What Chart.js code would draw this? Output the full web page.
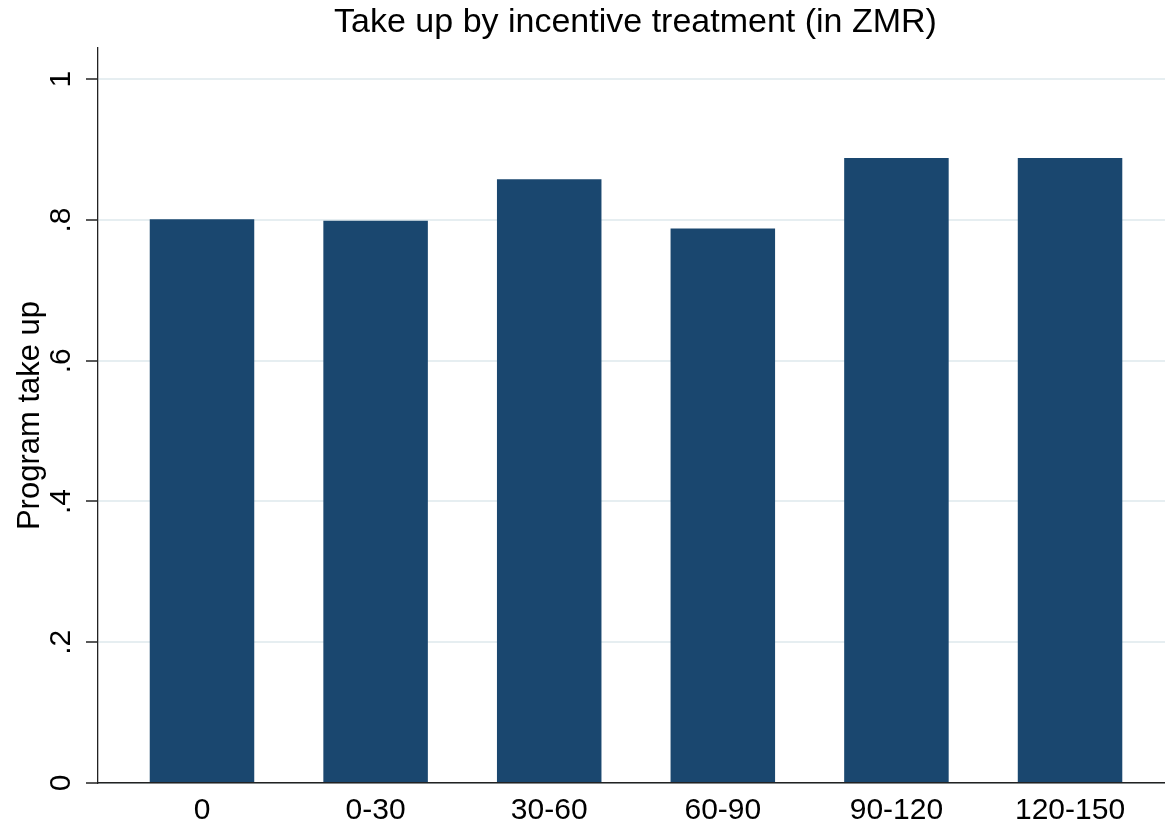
<!DOCTYPE html>
<html>
<head>
<meta charset="utf-8">
<script src="https://cdn.jsdelivr.net/npm/chart.js@4"></script>
<style>
  html, body { margin: 0; padding: 0; background: #fff; }
  #wrap { width: 1165px; height: 825px; }
</style>
</head>
<body>
<div id="wrap"><canvas id="chart"></canvas></div>
<script>
// Categories (ZMR incentive ranges) and take-up share per category
const categories = ['0', '0-30', '30-60', '60-90', '90-120', '120-150'];
const takeUp = [0.801, 0.799, 0.858, 0.788, 0.888, 0.888];
const yTicks = [0, 0.2, 0.4, 0.6, 0.8, 1];
const yTickLabels = ['0', '.2', '.4', '.6', '.8', '1'];
const chartTitle = 'Take up by incentive treatment (in ZMR)';

const FONT = '"Liberation Sans", Arial, Helvetica, sans-serif';

// rotated y tick labels (Stata style, reading bottom to top) and a title
// centred over the plot region instead of the whole canvas
const stataText = {
    id: 'stataText',
    afterDraw(chart) {
        const ctx = chart.ctx;
        const y = chart.scales.y;
        const area = chart.chartArea;
        ctx.save();
        ctx.fillStyle = '#000';
        ctx.textAlign = 'center';
        ctx.textBaseline = 'middle';
        ctx.font = '30px ' + FONT;
        yTicks.forEach((v, i) => {
            ctx.save();
            ctx.translate(62, y.getPixelForValue(v));
            ctx.rotate(-Math.PI / 2);
            ctx.fillText(yTickLabels[i], 0, 0);
            ctx.restore();
        });
        ctx.font = '34px ' + FONT;
        ctx.fillText(chartTitle, (area.left + area.right) / 2 + 4, 23);
        ctx.restore();
    }
};

new Chart(document.getElementById('chart'), {
    type: 'bar',
    data: {
        datasets: [{
            data: takeUp.map((v, i) => ({ x: i, y: v })),
            backgroundColor: '#1a476f',
            borderWidth: 0,
            barPercentage: 0.602,
            categoryPercentage: 1
        }]
    },
    options: {
        responsive: true,
        maintainAspectRatio: false,
        animation: false,
        layout: { padding: { left: 0, right: 0, top: 48, bottom: 0 } },
        plugins: {
            legend: { display: false },
            tooltip: { enabled: false },
            title: { display: false }
        },
        scales: {
            x: {
                type: 'linear',
                offset: false,
                min: -0.599,
                max: 5.547,
                afterBuildTicks: (scale) => {
                    scale.ticks = categories.map((c, i) => ({ value: i }));
                },
                afterFit: (scale) => { scale.height = 42; },
                grid: { display: false, drawTicks: false, offset: false },
                border: { display: true, color: '#222', width: 1.5 },
                ticks: {
                    padding: 10,
                    color: '#000',
                    font: { family: FONT, size: 30 },
                    maxRotation: 0,
                    autoSkip: false,
                    callback: (v) => categories[v]
                }
            },
            y: {
                min: 0,
                max: 1.0444,
                afterBuildTicks: (scale) => {
                    scale.ticks = yTicks.map(v => ({ value: v }));
                },
                afterFit: (scale) => { scale.width = 98; },
                grid: {
                    color: '#e6eef1',
                    lineWidth: 2,
                    drawTicks: true,
                    tickLength: 12,
                    tickColor: '#222',
                    tickWidth: 1.5
                },
                border: { display: true, color: '#222', width: 1.3 },
                ticks: { display: false },
                title: {
                    display: true,
                    text: 'Program take up',
                    color: '#000',
                    font: { family: FONT, size: 31 },
                    padding: { top: 12, bottom: 0 }
                }
            }
        }
    },
    plugins: [stataText]
});
</script>
</body>
</html>
